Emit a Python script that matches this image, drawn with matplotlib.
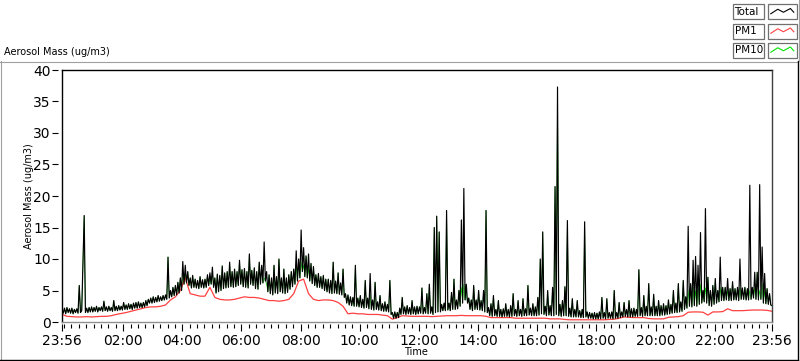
import matplotlib
matplotlib.use("Agg")
import matplotlib.pyplot as plt
from matplotlib.lines import Line2D
from matplotlib.patches import Rectangle
import numpy as np

# ---------------- data ----------------
# Time axis: minutes after 23:56 (start of the record)
total_step_min = 2.5
pm1_step_min = 10

# Total aerosol mass (ug/m3), one value every 2.5 minutes, one row per hour
total_values = [
    2.0, 1.4, 2.2, 1.3, 2.3, 1.5, 2.1, 1.4, 2.2, 1.3, 2.0, 1.5, 2.1, 1.4, 5.8, 1.5, 1.8, 9.5, 16.9, 1.5, 2.2, 1.5, 2.3, 1.6,
    2.4, 1.6, 2.3, 1.7, 2.5, 1.6, 2.3, 1.8, 2.4, 1.7, 3.3, 1.8, 2.4, 1.7, 2.5, 1.8, 2.3, 1.7, 3.4, 1.8, 2.5, 1.8, 2.6, 1.9,
    2.5, 1.9, 3.1, 2.0, 2.7, 2.0, 2.9, 2.1, 2.8, 2.0, 3.0, 2.2, 3.1, 2.2, 3.2, 2.3, 3.0, 2.3, 3.1, 2.4, 3.4, 2.6, 3.6, 3.0,
    3.8, 3.0, 4.0, 3.1, 3.9, 3.2, 4.2, 3.3, 4.0, 3.4, 4.2, 3.5, 4.3, 3.6, 10.3, 3.8, 5.0, 4.0, 5.5, 4.2, 5.8, 4.3, 6.3, 4.6,
    7.0, 5.0, 9.6, 6.0, 9.0, 6.2, 8.0, 5.8, 7.0, 5.4, 7.4, 5.5, 6.8, 5.4, 6.6, 5.3, 7.2, 5.5, 6.7, 5.4, 6.8, 5.5, 7.5, 5.8,
    7.8, 6.0, 8.7, 5.5, 7.0, 4.6, 7.6, 4.8, 7.4, 5.0, 8.9, 5.3, 7.8, 5.4, 8.0, 5.5, 9.5, 5.6, 8.0, 5.5, 8.4, 5.6, 8.0, 5.8,
    9.8, 6.0, 8.3, 5.6, 8.5, 5.5, 8.0, 5.4, 10.8, 6.0, 8.2, 5.8, 8.6, 5.3, 8.0, 5.2, 9.5, 6.0, 9.0, 6.2, 12.7, 6.5, 8.0, 4.8,
    7.5, 4.5, 7.0, 4.3, 9.0, 4.6, 7.2, 4.5, 10.0, 4.8, 7.0, 4.6, 8.4, 4.5, 7.0, 4.7, 7.5, 5.2, 8.0, 5.6, 8.4, 6.0, 11.3, 6.5,
    10.0, 7.0, 14.6, 8.0, 11.8, 7.2, 10.5, 7.0, 10.8, 6.5, 9.3, 6.1, 8.8, 5.8, 7.5, 5.5, 7.7, 5.5, 7.2, 5.3, 7.4, 5.0, 6.8, 4.8,
    6.8, 4.6, 6.6, 4.5, 9.5, 4.6, 6.5, 4.5, 7.8, 4.4, 6.2, 4.3, 8.4, 3.9, 4.5, 3.0, 4.3, 2.7, 4.0, 2.6, 3.9, 2.5, 9.0, 2.5,
    3.8, 2.4, 4.2, 2.3, 3.6, 2.2, 6.6, 2.3, 3.8, 2.1, 7.7, 2.0, 3.5, 1.9, 6.3, 2.0, 3.2, 1.9, 4.2, 1.8, 2.9, 1.7, 3.2, 1.7,
    2.8, 1.6, 6.6, 1.2, 1.5, 0.6, 1.6, 0.6, 1.5, 0.7, 2.2, 1.2, 3.9, 1.3, 2.4, 1.2, 2.6, 1.3, 2.3, 1.2, 3.4, 1.3, 2.4, 1.2,
    2.5, 1.3, 2.4, 1.4, 5.4, 1.3, 2.3, 1.4, 4.5, 1.3, 6.0, 1.4, 2.4, 1.2, 15.0, 1.5, 16.8, 1.6, 14.3, 1.6, 2.8, 1.8, 3.0, 1.8,
    17.7, 1.9, 3.0, 1.8, 4.7, 2.0, 6.8, 2.0, 3.5, 2.1, 5.0, 2.5, 16.2, 3.0, 21.2, 3.5, 6.0, 3.0, 3.8, 2.0, 3.5, 1.8, 5.8, 2.0,
    3.5, 2.0, 5.0, 1.9, 3.4, 1.8, 5.0, 1.6, 17.7, 1.5, 2.3, 1.0, 2.9, 0.9, 4.2, 1.0, 2.0, 0.9, 3.4, 0.9, 2.0, 0.8, 2.1, 0.9,
    2.9, 0.9, 2.0, 0.8, 2.6, 0.9, 4.5, 1.0, 2.0, 0.9, 3.4, 1.0, 2.0, 0.9, 3.7, 1.0, 2.1, 1.0, 5.8, 1.1, 2.2, 1.0, 2.9, 1.0,
    2.4, 1.0, 3.9, 1.1, 10.0, 1.3, 14.3, 1.2, 2.5, 1.0, 5.0, 1.1, 2.6, 1.0, 5.5, 1.0, 21.5, 1.2, 37.3, 1.0, 2.8, 0.9, 3.4, 1.0,
    5.6, 1.0, 16.1, 0.9, 2.2, 0.8, 3.7, 0.8, 2.0, 0.8, 3.4, 0.8, 1.8, 0.7, 2.0, 0.7, 15.9, 0.8, 1.6, 0.6, 1.5, 0.6, 1.4, 0.5,
    1.5, 0.5, 1.4, 0.5, 1.6, 0.5, 3.9, 0.6, 1.5, 0.5, 3.7, 0.6, 1.5, 0.6, 1.6, 0.5, 5.0, 0.6, 1.5, 0.6, 3.1, 0.7, 1.6, 0.8,
    3.1, 0.9, 2.0, 0.8, 3.4, 0.8, 2.1, 0.8, 2.2, 0.9, 2.0, 0.9, 8.3, 1.0, 2.3, 0.9, 4.2, 1.0, 2.5, 1.0, 6.1, 1.0, 2.4, 1.0,
    4.4, 1.0, 2.5, 1.0, 3.4, 1.0, 2.6, 1.1, 2.9, 1.1, 2.6, 1.2, 3.5, 1.3, 2.8, 1.4, 5.0, 1.5, 3.0, 1.5, 6.1, 1.6, 3.2, 1.7,
    6.6, 2.0, 4.0, 2.2, 15.2, 2.5, 6.1, 2.4, 9.8, 2.6, 10.4, 2.5, 9.0, 2.8, 14.2, 3.0, 5.0, 3.2, 18.0, 3.0, 7.1, 2.6, 5.0, 2.5,
    5.8, 2.8, 6.9, 3.0, 5.0, 3.2, 10.3, 3.4, 5.5, 3.4, 5.5, 3.5, 6.9, 3.4, 5.3, 3.4, 6.4, 3.5, 5.3, 3.5, 5.5, 3.4, 10.0, 3.6,
    5.4, 3.6, 5.5, 3.5, 5.3, 3.5, 21.7, 3.6, 5.5, 3.8, 7.9, 3.6, 7.9, 3.5, 21.8, 3.6, 11.9, 3.0, 7.7, 2.9, 5.3, 2.8, 4.5, 2.7,
    2.6,
]

# PM10 (ug/m3), same 2.5-minute sampling
pm10_values = [
    2.0, 1.4, 2.2, 1.3, 2.3, 1.5, 2.1, 1.4, 2.2, 1.3, 2.0, 1.5, 2.1, 1.4, 5.8, 1.5, 1.8, 9.5, 16.9, 1.5, 2.2, 1.5, 2.3, 1.6,
    2.4, 1.6, 2.3, 1.7, 2.5, 1.6, 2.3, 1.8, 2.4, 1.7, 3.3, 1.8, 2.4, 1.7, 2.5, 1.8, 2.3, 1.7, 3.4, 1.8, 2.5, 1.8, 2.6, 1.9,
    2.5, 1.9, 3.1, 2.0, 2.7, 2.0, 2.9, 2.1, 2.8, 2.0, 3.0, 2.2, 3.1, 2.2, 3.2, 2.3, 3.0, 2.3, 3.1, 2.4, 3.4, 2.6, 3.6, 3.0,
    3.8, 3.0, 4.0, 3.1, 3.9, 3.2, 4.2, 3.3, 4.0, 3.4, 4.2, 3.5, 4.3, 3.6, 10.3, 3.8, 5.0, 4.0, 5.5, 4.2, 5.8, 4.3, 6.3, 4.6,
    7.0, 5.0, 8.0, 6.0, 7.8, 6.2, 8.0, 5.8, 7.0, 5.4, 7.4, 5.5, 6.8, 5.4, 6.6, 5.3, 7.2, 5.5, 6.7, 5.4, 6.8, 5.5, 7.5, 5.8,
    7.0, 6.0, 7.6, 5.5, 7.0, 4.6, 7.6, 4.8, 7.4, 5.0, 8.9, 5.3, 7.8, 5.4, 8.0, 5.5, 9.5, 5.6, 8.0, 5.5, 8.4, 5.6, 8.0, 5.8,
    9.8, 6.0, 8.3, 5.6, 8.5, 5.5, 8.0, 5.4, 10.8, 6.0, 8.2, 5.8, 8.6, 5.3, 8.0, 5.2, 9.5, 6.0, 9.0, 6.2, 7.0, 6.5, 6.0, 4.8,
    7.5, 4.5, 7.0, 4.3, 9.0, 4.6, 7.2, 4.5, 10.0, 4.8, 7.0, 4.6, 8.4, 4.5, 7.0, 4.7, 7.5, 5.2, 8.0, 5.6, 8.4, 6.0, 9.0, 6.5,
    10.0, 7.0, 9.5, 8.0, 9.0, 7.2, 10.5, 7.0, 8.5, 6.5, 9.3, 6.1, 8.8, 5.8, 7.5, 5.5, 7.7, 5.5, 7.2, 5.3, 7.4, 5.0, 6.8, 4.8,
    6.8, 4.6, 6.6, 4.5, 9.5, 4.6, 6.5, 4.5, 7.8, 4.4, 6.2, 4.3, 8.4, 3.9, 4.5, 3.0, 4.3, 2.7, 4.0, 2.6, 3.9, 2.5, 9.0, 2.5,
    3.8, 2.4, 4.2, 2.3, 3.6, 2.2, 6.6, 2.3, 3.8, 2.1, 4.5, 2.0, 3.5, 1.9, 6.3, 2.0, 3.2, 1.9, 4.2, 1.8, 2.9, 1.7, 3.2, 1.7,
    2.8, 1.6, 6.6, 1.2, 1.5, 0.6, 1.6, 0.6, 1.5, 0.7, 2.2, 1.2, 3.9, 1.3, 2.4, 1.2, 2.6, 1.3, 2.3, 1.2, 3.4, 1.3, 2.4, 1.2,
    2.5, 1.3, 2.4, 1.4, 5.4, 1.3, 2.3, 1.4, 4.5, 1.3, 6.0, 1.4, 2.4, 1.2, 15.0, 1.5, 16.8, 1.6, 14.3, 1.6, 2.8, 1.8, 3.0, 1.8,
    17.7, 1.9, 3.0, 1.8, 4.7, 2.0, 6.8, 2.0, 3.5, 2.1, 5.0, 2.5, 5.5, 3.0, 6.0, 3.5, 4.5, 3.0, 3.8, 2.0, 3.5, 1.8, 5.8, 2.0,
    3.5, 2.0, 5.0, 1.9, 3.4, 1.8, 5.0, 1.6, 17.7, 1.5, 2.3, 1.0, 2.9, 0.9, 4.2, 1.0, 2.0, 0.9, 3.4, 0.9, 2.0, 0.8, 2.1, 0.9,
    2.9, 0.9, 2.0, 0.8, 2.6, 0.9, 4.5, 1.0, 2.0, 0.9, 3.4, 1.0, 2.0, 0.9, 3.7, 1.0, 2.1, 1.0, 5.8, 1.1, 2.2, 1.0, 2.9, 1.0,
    2.4, 1.0, 3.9, 1.1, 10.0, 1.3, 14.3, 1.2, 2.5, 1.0, 5.0, 1.1, 2.6, 1.0, 5.5, 1.0, 21.5, 1.2, 37.3, 1.0, 2.8, 0.9, 3.4, 1.0,
    5.6, 1.0, 16.1, 0.9, 2.2, 0.8, 3.7, 0.8, 2.0, 0.8, 3.4, 0.8, 1.8, 0.7, 2.0, 0.7, 15.9, 0.8, 1.6, 0.6, 1.5, 0.6, 1.4, 0.5,
    1.5, 0.5, 1.4, 0.5, 1.6, 0.5, 3.9, 0.6, 1.5, 0.5, 3.7, 0.6, 1.5, 0.6, 1.6, 0.5, 5.0, 0.6, 1.5, 0.6, 3.1, 0.7, 1.6, 0.8,
    3.1, 0.9, 2.0, 0.8, 3.4, 0.8, 2.1, 0.8, 2.2, 0.9, 2.0, 0.9, 8.3, 1.0, 2.3, 0.9, 4.2, 1.0, 2.5, 1.0, 6.1, 1.0, 2.4, 1.0,
    4.4, 1.0, 2.5, 1.0, 3.4, 1.0, 2.6, 1.1, 2.9, 1.1, 2.6, 1.2, 3.5, 1.3, 2.8, 1.4, 5.0, 1.5, 3.0, 1.5, 6.1, 1.6, 3.2, 1.7,
    6.6, 2.0, 4.0, 2.2, 5.0, 2.5, 6.1, 2.4, 5.5, 2.6, 5.0, 2.5, 5.5, 2.8, 6.0, 3.0, 5.0, 3.2, 5.5, 3.0, 7.1, 2.6, 5.0, 2.5,
    5.8, 2.8, 6.9, 3.0, 5.0, 3.2, 5.5, 3.4, 5.5, 3.4, 5.5, 3.5, 5.0, 3.4, 5.3, 3.4, 6.4, 3.5, 5.3, 3.5, 5.5, 3.4, 5.5, 3.6,
    5.4, 3.6, 5.5, 3.5, 5.3, 3.5, 5.0, 3.6, 5.5, 3.8, 5.5, 3.6, 7.9, 3.5, 5.0, 3.6, 6.0, 3.0, 5.0, 2.9, 5.3, 2.8, 4.5, 2.7,
    2.6,
]

# PM1 (ug/m3), one value every 10 minutes, one row per hour
pm1_values = [
    1.2, 0.9, 0.85, 0.8, 0.8, 0.85,
    0.8, 0.85, 0.9, 0.9, 1.0, 1.2,
    1.35, 1.5, 1.7, 1.9, 2.1, 2.3,
    2.4, 2.4, 2.5, 2.7, 3.5, 4.0,
    5.0, 7.0, 4.5, 4.3, 4.1, 4.1,
    5.5, 3.9, 3.6, 3.5, 3.5, 3.6,
    3.8, 4.0, 3.9, 3.9, 3.8, 3.6,
    3.4, 3.4, 3.3, 3.4, 3.6, 4.5,
    6.5, 6.8, 4.5, 3.6, 3.4, 3.5,
    3.5, 3.4, 3.1, 2.5, 1.3, 1.4,
    1.3, 1.3, 1.2, 1.2, 1.2, 1.1,
    1.0, 0.45, 0.7, 1.0, 0.95, 0.9,
    0.9, 0.9, 0.9, 0.85, 0.9, 0.95,
    1.0, 1.0, 1.0, 1.05, 1.0, 1.0,
    1.0, 1.0, 0.9, 0.7, 0.7, 0.7,
    0.7, 0.7, 0.6, 0.6, 0.6, 0.6,
    0.6, 0.6, 0.6, 0.5, 0.5, 0.5,
    0.4, 0.35, 0.35, 0.35, 0.35, 0.35,
    0.35, 0.35, 0.35, 0.4, 0.45, 0.6,
    0.8, 0.75, 0.7, 0.7, 0.7, 0.55,
    0.5, 0.5, 0.5, 0.75, 0.8, 0.85,
    1.0, 1.55, 1.6, 1.6, 1.55, 1.1,
    1.6, 1.6, 1.65, 2.1, 1.8, 1.8,
    1.8, 1.85, 1.9, 1.9, 1.9, 1.85,
    1.7,
]

start_label = "23:56"
x_tick_labels = ["23:56", "02:00", "04:00", "06:00", "08:00", "10:00", "12:00",
                 "14:00", "16:00", "18:00", "20:00", "22:00", "23:56"]
y_ticks = [0, 5, 10, 15, 20, 25, 30, 35, 40]
series_names = ["Total", "PM1", "PM10"]
series_colors = ["#000000", "#ff4040", "#00e600"]

# ---------------- helpers ----------------
def minutes_after_start(label, idx):
    h0, m0 = map(int, start_label.split(":"))
    h, m = map(int, label.split(":"))
    d = (h * 60 + m) - (h0 * 60 + m0)
    if d < 0 or (d == 0 and idx > 0):
        d += 1440
    return d

t_total = np.arange(len(total_values)) * total_step_min
t_pm10 = np.arange(len(pm10_values)) * total_step_min
t_pm1 = np.arange(len(pm1_values)) * pm1_step_min

plt.rcParams['font.family'] = ['DejaVu Sans']

W, H = 800, 361
fig = plt.figure(figsize=(W / 100, H / 100), dpi=100)
fig.patch.set_facecolor("white")

# plot area in pixels
L, R, T, B = 62, 772, 70, 322
ax = fig.add_axes([L / W, 1 - B / H, (R - L) / W, (B - T) / H])

ax.plot(t_pm10, pm10_values, color=series_colors[2], lw=0.45, zorder=2)
ax.plot(t_pm1, pm1_values, color=series_colors[1], lw=0.9, zorder=3)
ax.plot(t_total, total_values, color=series_colors[0], lw=0.85, zorder=4)

ax.set_xlim(0, 1440)
ax.set_ylim(0, 40)

major_pos = [minutes_after_start(lb, i) for i, lb in enumerate(x_tick_labels)]
ax.set_xticks(major_pos)
ax.set_xticklabels(x_tick_labels, fontsize=6.6)
ax.set_xticks(np.arange(4, 1440, 15), minor=True)
ax.set_yticks(y_ticks)
ax.set_yticklabels([str(v) for v in y_ticks], fontsize=6.3)

ax.tick_params(axis="x", which="major", direction="out", length=5, width=0.8, pad=2)
ax.tick_params(axis="x", which="minor", direction="out", length=3, width=0.8)
ax.tick_params(axis="y", which="major", direction="out", length=4, width=0.8, pad=1.2)

for s in ["left", "bottom", "top", "right"]:
    ax.spines[s].set_color("none")
ax.spines["left"].set_position(("outward", 3))
ax.spines["bottom"].set_position(("outward", 1.5))

# plot box border
box_kw = dict(transform=ax.transAxes, clip_on=False, zorder=10)
ax.add_line(Line2D([0, 0], [0, 1], color="black", lw=1.0, **box_kw))
ax.add_line(Line2D([0, 1], [1, 1], color="black", lw=1.0, **box_kw))
ax.add_line(Line2D([1, 1], [0, 1], color="#404040", lw=1.0, **box_kw))
ax.add_line(Line2D([0, 1], [0, 0], color="#909090", lw=1.0, **box_kw))

# overlay for frame / legend / labels (pixel coordinates)
ov = fig.add_axes([0, 0, 1, 1], facecolor="none")
ov.set_xlim(0, W)
ov.set_ylim(H, 0)
ov.axis("off")

ov.plot([0.5, 0.5], [61, 361], color="#a0a0a0", lw=0.8)
ov.plot([0, 798], [61.5, 61.5], color="#a0a0a0", lw=0.8)
ov.plot([0, 798], [360, 360], color="black", lw=1.0)
ov.plot([797.5, 797.5], [61, 361], color="black", lw=1.0)
ov.plot([799, 799], [0, 61], color="#a0a0a0", lw=0.8)

ov.text(4, 52, "Aerosol Mass (ug/m3)", fontsize=7, ha="left", va="center")
ov.text(29, 196, "Aerosol Mass (ug/m3)", fontsize=7, ha="center", va="center",
        rotation=90)
ov.text(416, 352, "Time", fontsize=7, ha="center", va="center")

# legend
row_tops = [4, 23.5, 42.5]
zig_x = [0.1, 0.35, 0.55, 0.8, 0.92]
zig_y = [0.65, 0.35, 0.55, 0.3, 0.55]
for name, col, top in zip(series_names, series_colors, row_tops):
    ov.add_patch(Rectangle((732.5, top), 31, 15, fill=False, edgecolor="#707070", lw=0.9))
    ov.text(734.5, top + 7.8, name, fontsize=7.5, ha="left", va="center")
    ov.add_patch(Rectangle((767.5, top), 29, 15, fill=False, edgecolor="#707070", lw=0.9))
    ov.plot([768 + 28 * zx for zx in zig_x], [top + 15 * zy for zy in zig_y],
            color=col, lw=0.8)

fig.savefig("out.png", dpi=100, facecolor="white")
